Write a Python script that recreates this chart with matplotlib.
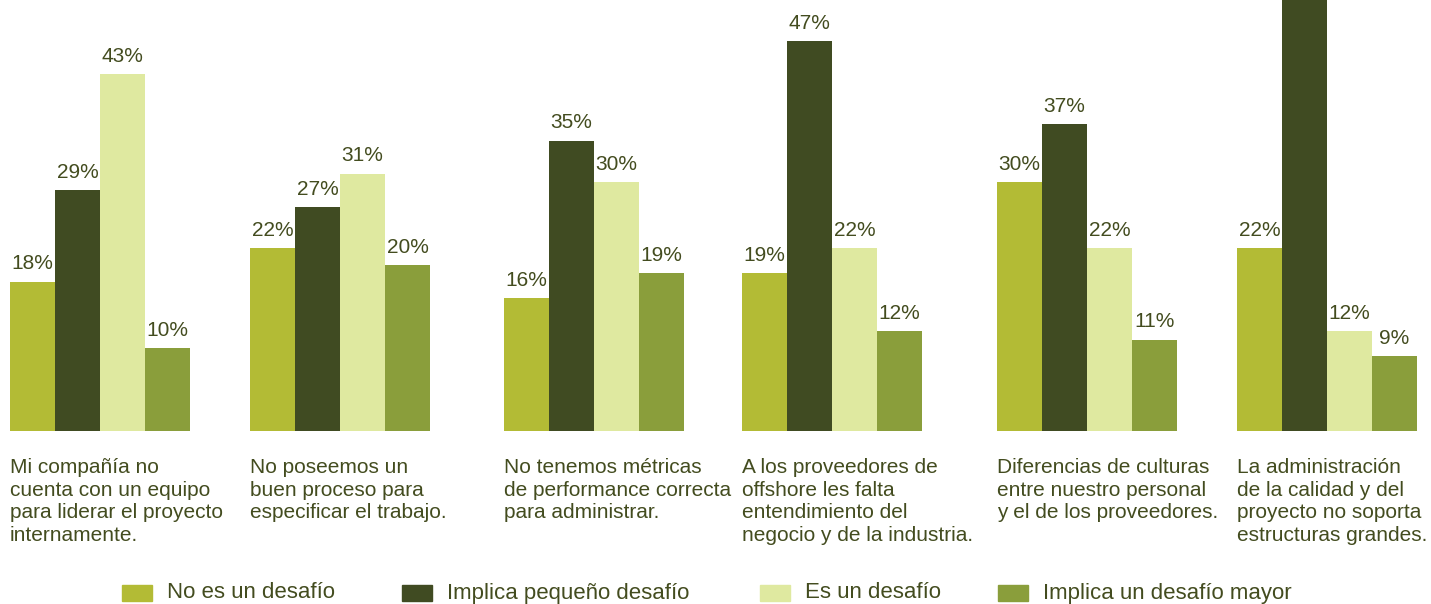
import matplotlib.pyplot as plt
from matplotlib.patches import Rectangle

plt.rcParams["font.family"] = ["Liberation Sans", "DejaVu Sans"]

categories = [
    "Mi compañía no\ncuenta con un equipo\npara liderar el proyecto\ninternamente.",
    "No poseemos un\nbuen proceso para\nespecificar el trabajo.",
    "No tenemos métricas\nde performance correcta\npara administrar.",
    "A los proveedores de\noffshore les falta\nentendimiento del\nnegocio y de la industria.",
    "Diferencias de culturas\nentre nuestro personal\ny el de los proveedores.",
    "La administración\nde la calidad y del\nproyecto no soporta\nestructuras grandes.",
]
series_names = ["No es un desafío", "Implica pequeño desafío",
                "Es un desafío", "Implica un desafío mayor"]
no_es = [18, 22, 16, 19, 30, 22]
pequeno = [29, 27, 35, 47, 37, 56]
es = [43, 31, 30, 22, 22, 12]
mayor = [10, 20, 19, 12, 11, 9]
values = [no_es, pequeno, es, mayor]

colors = ["#b3bb35", "#404b22", "#dfe9a0", "#8a9e3b"]
text_color = "#434c1f"

W, H = 1431, 604
base_y = 431
group_x = [10, 250, 504, 742, 997, 1237]
bar_w = 45

fig = plt.figure(figsize=(W / 100, H / 100), dpi=100)
ax = fig.add_axes([0, (H - base_y) / H, 1, base_y / H])
ymax = base_y / 8.3
ax.set_xlim(0, W)
ax.set_ylim(0, ymax)
ax.axis("off")

for s, vals in enumerate(values):
    xs = [g + s * bar_w for g in group_x]
    bars = ax.bar(xs, vals, width=bar_w, align="edge", color=colors[s], clip_on=False)
    for b, v in zip(bars, vals):
        if v > ymax - 4:
            continue  # label falls off the top of the picture
        ax.annotate(f"{v}%", (b.get_x() + b.get_width() / 2, v),
                    xytext=(0, 6), textcoords="offset points",
                    ha="center", va="bottom", fontsize=15, color=text_color)

for g, cat in zip(group_x, categories):
    fig.text(g / W, 1 - 458 / H, cat, ha="left", va="top", fontsize=15,
             color=text_color, linespacing=1.25)

legend_x = [122, 402, 760, 998]
for lx, name, c in zip(legend_x, series_names, colors):
    fig.add_artist(Rectangle((lx / W, 1 - 601 / H), 30 / W, 16 / H,
                             transform=fig.transFigure, color=c))
    fig.text((lx + 45) / W, 1 - 593 / H, name, ha="left", va="center",
             fontsize=16, color=text_color)

fig.savefig("out.png", dpi=100)
